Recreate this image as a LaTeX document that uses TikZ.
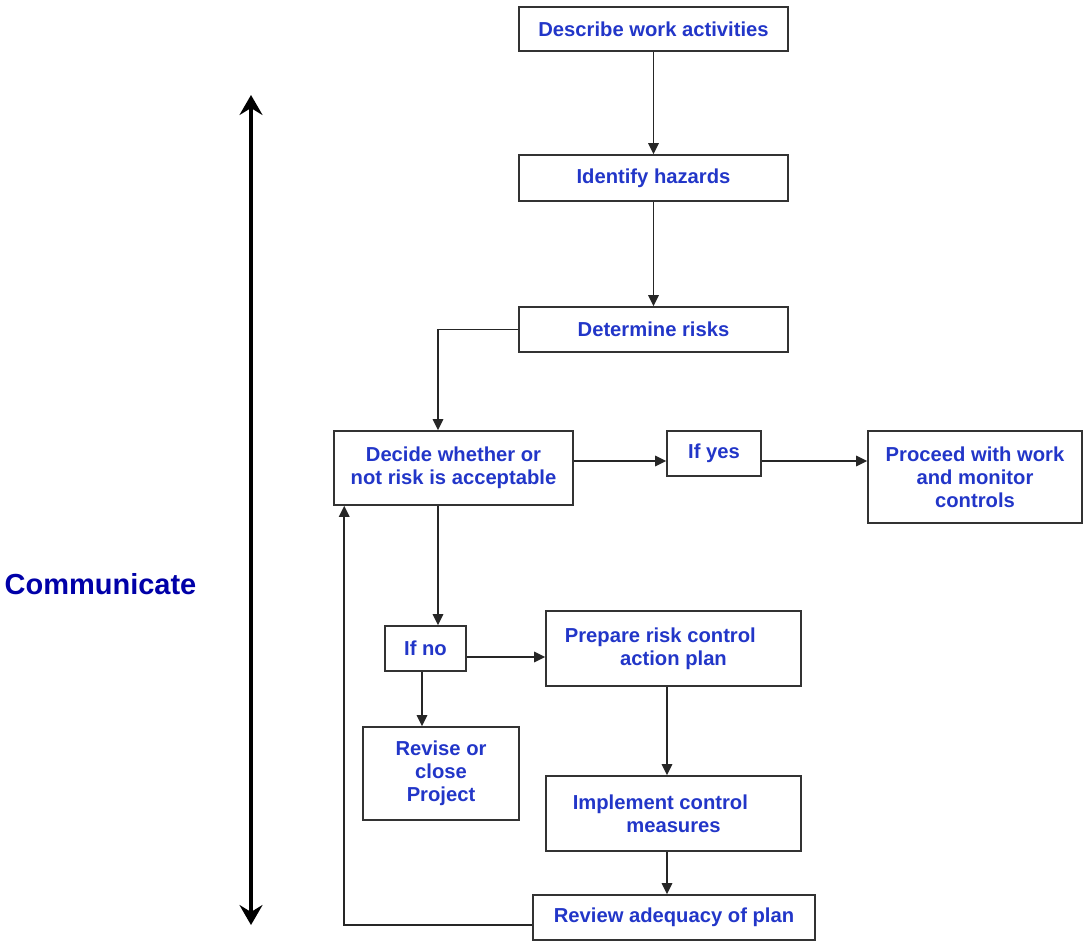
\documentclass[tikz,border=0pt]{standalone}
\usepackage{fontspec}
\setmainfont{Liberation Sans}
\usepackage{xcolor}
\usepackage{tikz}
\usetikzlibrary{positioning,arrows.meta,calc}
\definecolor{boxText}{HTML}{2236C8}
\definecolor{commBlue}{HTML}{0000A8}
\definecolor{boxLine}{HTML}{333333}

\begin{document}
\begin{tikzpicture}[font=\fontsize{11.5}{13.2}\selectfont\bfseries,
      stepbox/.style={draw=boxLine,line width=0.9pt,text=boxText,align=center,inner sep=2pt},
      flow/.style={-{Triangle[length=2.2mm,width=2.1mm]},line width=0.9pt,black!85}]
    \useasboundingbox (0,0) rectangle (21.66,-18.84);

    \node[stepbox,minimum width=5.38cm,minimum height=0.88cm] (desc) at (13.07,-0.58) {Describe work activities};
    \node[stepbox,minimum width=5.38cm,minimum height=0.92cm] (ident) at (13.07,-3.56) {Identify hazards};
    \node[stepbox,minimum width=5.38cm,minimum height=0.9cm] (det) at (13.07,-6.59) {Determine risks};
    \node[stepbox,minimum width=4.78cm,minimum height=1.48cm] (decide) at (9.07,-9.36) {Decide whether or \\ not risk is acceptable};
    \node[stepbox,minimum width=1.88cm,minimum height=0.9cm] (yes) at (14.28,-9.07) {If yes};
    \node[stepbox,minimum width=4.28cm,minimum height=1.84cm] (proc) at (19.5,-9.54) {Proceed with work \\ and monitor \\ controls};
    \node[stepbox,minimum width=1.62cm,minimum height=0.9cm] (no) at (8.51,-12.97) {If no};
    \node[stepbox,minimum width=5.1cm,minimum height=1.5cm] (prep) at (13.47,-12.97) {Prepare risk control\hspace*{1.3em} \\ action plan};
    \node[stepbox,minimum width=3.12cm,minimum height=1.86cm] (rev) at (8.82,-15.47) {Revise or \\ close \\ Project};
    \node[stepbox,minimum width=5.1cm,minimum height=1.5cm] (impl) at (13.47,-16.27) {Implement control\hspace*{1.3em} \\ measures};
    \node[stepbox,minimum width=5.64cm,minimum height=0.9cm] (review) at (13.48,-18.35) {Review adequacy of plan};

    % communicate arrow
    \coordinate (ctop) at (5.02,-1.9);
    \coordinate (cbot) at (5.02,-18.5);
    \node[text=commBlue,font=\fontsize{16.5}{19}\selectfont\bfseries] (comm) at (2.01,-11.68) {Communicate};
    \draw[{Stealth[length=4mm,width=4.6mm,inset=1.4mm]}-{Stealth[length=4mm,width=4.6mm,inset=1.4mm]},line width=2.2pt] (ctop) -- (cbot);

    \draw[flow] (desc) -- (ident);
    \draw[flow] (ident) -- (det);
    \draw[flow] (det.west) -| ([xshift=-0.31cm]decide.north);
    \coordinate (r1) at ([yshift=0.14cm]decide.east);
    \draw[flow] (r1) -- (r1 -| yes.west);
    \draw[flow] (r1 -| yes.east) -- (r1 -| proc.west);
    \draw[flow] ([xshift=-0.31cm]decide.south) -- ([xshift=-0.31cm]decide.south |- no.north);
    \draw[flow] ([yshift=-0.17cm]no.east) -- ([yshift=-0.17cm]no.east -| prep.west);
    \draw[flow] ([xshift=-0.07cm]no.south) -- ([xshift=-0.07cm]no.south |- rev.north);
    \draw[flow] ([xshift=-0.13cm]prep.south) -- ([xshift=-0.13cm]prep.south |- impl.north);
    \draw[flow] ([xshift=-0.13cm]impl.south) -- ([xshift=-0.13cm]impl.south |- review.north);
    \draw[flow] ([yshift=-0.15cm]review.west) -| ([xshift=0.22cm]decide.south west);
  \end{tikzpicture}
\end{document}
